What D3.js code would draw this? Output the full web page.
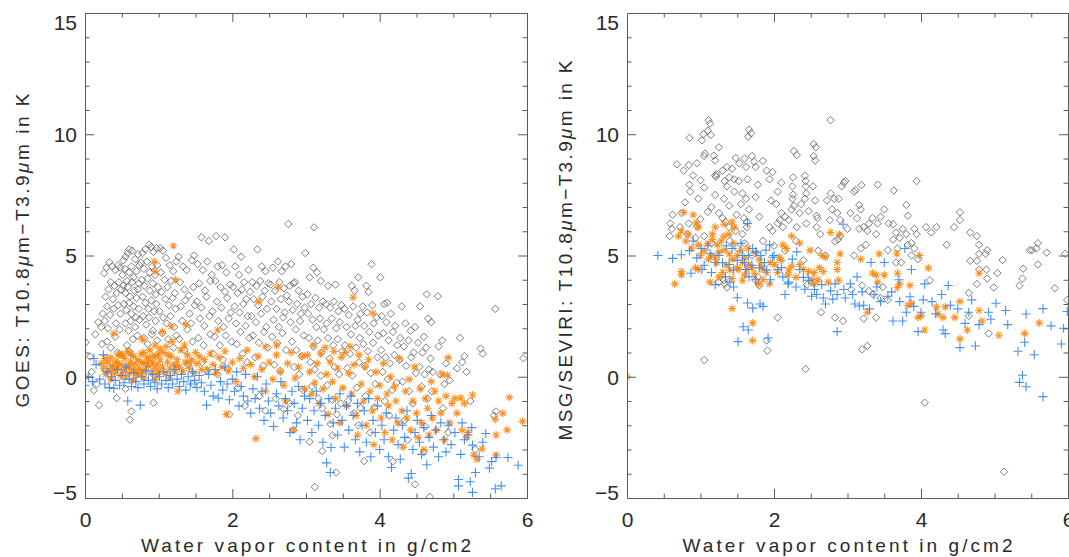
<!DOCTYPE html>
<html>
<head>
<meta charset="utf-8">
<script src="https://d3js.org/d3.v7.min.js"></script>
<style>
  body { margin: 0; background: #fff; }
  svg { display: block; font-family: "Liberation Sans", "DejaVu Sans", sans-serif; }
</style>
</head>
<body>
<script>
"use strict";

// axis ticks and titles
var xTicks = [0, 2, 4, 6];
var yTicks = [-5, 0, 5, 10, 15];
var xMinor = [0.5, 1, 1.5, 2.5, 3, 3.5, 4.5, 5, 5.5];
var yMinor = [-4, -3, -2, -1, 1, 2, 3, 4, 6, 7, 8, 9, 11, 12, 13, 14];
var xTitle = "Water vapor content in g/cm2";
var yTitleLeft = ["GOES: T10.8", "μ", "m−T3.9", "μ", "m in K"];
var yTitleRight = ["MSG/SEVIRI: T10.8", "μ", "m−T3.9", "μ", "m in K"];

// GOES panel: [water vapour, dT]
var goesDiamonds = [
 [0.01,1.42],[0.07,0.83],[0.12,-0.56],[0.19,-1.17],[0.14,1.75],[0.18,2.25],[0.22,2.05],[0.09,0.2],[0.23,1.35],[0.16,-0.3],[0.24,2.6],
 [0.26,4.27],[0.29,4.5],[0.33,4.72],[0.37,4.55],[0.41,4.4],[0.45,4.6],[0.48,4.5],[0.28,3.3],[0.3,2.9],[0.32,3.6],[0.35,3.9],[0.38,3.2],[0.4,3.75],[0.43,3.45],[0.46,3.9],[0.49,3.6],[0.27,2.3],[0.31,2.0],[0.34,2.55],[0.39,2.8],[0.42,2.2],[0.45,2.95],[0.48,2.6],[0.3,1.45],[0.35,1.2],[0.41,1.65],[0.44,1.0],[0.47,1.95],[0.43,-0.88],[0.36,0.55],[0.28,0.3],
 [0.52,4.8],[0.55,4.95],[0.58,5.1],[0.6,5.25],[0.64,5.2],[0.68,4.85],[0.72,5.05],[0.74,4.6],[0.51,4.2],[0.54,4.45],[0.57,3.95],[0.6,4.3],[0.63,4.55],[0.66,4.1],[0.7,4.35],[0.73,3.85],[0.52,3.75],[0.55,3.45],[0.58,3.7],[0.61,3.3],[0.64,3.9],[0.67,3.55],[0.7,3.25],[0.72,3.6],[0.53,3.0],[0.56,2.75],[0.6,3.05],[0.63,2.6],[0.66,2.9],[0.69,2.45],[0.73,2.8],[0.55,2.2],[0.59,1.9],[0.62,2.3],[0.65,1.55],[0.68,2.05],[0.71,1.7],[0.74,2.35],[0.57,1.3],[0.6,1.05],[0.66,0.7],[0.55,-0.5],[0.61,-1.77],[0.63,-1.43],[0.58,0.25],
 [0.78,5.1],[0.82,5.25],[0.87,5.45],[0.9,5.35],[0.93,5.15],[0.97,5.3],[0.76,4.7],[0.8,4.45],[0.84,4.75],[0.88,4.3],[0.91,4.55],[0.95,4.2],[0.98,4.6],[0.77,4.0],[0.81,3.75],[0.85,4.05],[0.88,3.55],[0.92,3.85],[0.96,3.4],[0.99,3.7],[0.78,3.3],[0.82,3.05],[0.86,2.8],[0.9,3.15],[0.94,2.7],[0.97,3.0],[0.79,2.5],[0.83,2.15],[0.87,2.45],[0.92,1.9],[0.96,2.3],[0.8,1.6],[0.85,1.35],[0.91,1.75],[0.98,1.5],[0.93,-1.07],[0.88,0.55],
 [1.02,5.3],[1.06,5.2],[1.1,4.9],[1.15,4.6],[1.2,4.35],[1.24,4.75],[1.03,4.3],[1.08,4.0],[1.12,3.7],[1.17,3.95],[1.22,3.45],[1.04,3.5],[1.09,3.2],[1.14,2.95],[1.19,3.25],[1.23,2.8],[1.01,2.7],[1.06,2.45],[1.11,2.2],[1.16,2.5],[1.21,2.05],[1.05,1.8],[1.13,1.55],[1.2,1.2],[1.24,1.7],
 [1.27,4.95],[1.33,4.55],[1.38,4.4],[1.45,4.8],[1.48,5.0],[1.29,3.9],[1.35,3.6],[1.41,3.35],[1.47,3.7],[1.3,2.9],[1.36,3.15],[1.42,2.6],[1.49,2.95],[1.32,2.3],[1.39,1.95],[1.44,2.2],[1.28,1.55],[1.35,1.1],[1.46,1.45],[1.4,0.5],[1.47,-0.3],
 [1.58,5.75],[1.68,5.6],[1.53,4.65],[1.6,4.4],[1.66,4.75],[1.72,4.2],[1.55,3.85],[1.63,3.55],[1.7,3.95],[1.52,3.1],[1.58,2.85],[1.65,3.3],[1.73,2.7],[1.56,2.4],[1.62,2.1],[1.69,2.5],[1.54,1.6],[1.61,1.3],[1.7,1.75],[1.74,0.95],[1.59,0.6],[1.66,0.25],
 [1.78,5.8],[1.9,5.75],[1.8,4.55],[1.86,4.6],[1.92,4.3],[1.77,3.95],[1.84,3.7],[1.9,3.5],[1.97,3.8],[1.79,3.1],[1.85,2.85],[1.93,3.25],[1.98,2.65],[1.81,2.3],[1.88,2.05],[1.95,2.4],[1.76,1.65],[1.83,1.3],[1.91,1.7],[1.99,1.45],[1.87,0.7],[1.94,0.35],[1.96,-1.55],[1.8,0.1],
 [2.02,5.25],[2.12,4.95],[2.04,4.55],[2.09,4.2],[2.16,3.9],[2.22,4.4],[2.01,3.7],[2.07,3.45],[2.13,3.6],[2.19,3.2],[2.24,3.5],[2.03,2.9],[2.1,2.65],[2.15,3.0],[2.21,2.5],[2.05,2.2],[2.11,1.85],[2.18,2.1],[2.23,1.6],[2.06,1.35],[2.14,0.95],[2.2,0.6],[2.08,-0.45],[2.17,-1.2],
 [2.34,5.25],[2.4,4.55],[2.45,4.35],[2.27,3.9],[2.33,3.75],[2.38,3.95],[2.44,3.55],[2.49,3.85],[2.29,3.2],[2.35,2.95],[2.41,3.3],[2.47,2.8],[2.26,2.5],[2.32,2.25],[2.39,2.6],[2.46,2.05],[2.28,1.7],[2.36,1.4],[2.43,1.85],[2.48,1.2],[2.31,0.8],[2.42,0.45],[2.37,-0.8],[2.45,-1.4],
 [2.55,4.5],[2.62,4.75],[2.67,4.35],[2.72,4.55],[2.52,3.8],[2.58,3.55],[2.64,3.9],[2.7,3.65],[2.74,3.35],[2.53,3.1],[2.6,2.8],[2.66,3.2],[2.71,2.65],[2.56,2.35],[2.63,2.05],[2.69,2.45],[2.54,1.65],[2.61,1.4],[2.68,1.8],[2.73,1.1],[2.57,0.5],[2.65,0.25],[2.59,-0.9],[2.7,-1.35],
 [2.76,6.3],[2.99,5.1],[2.8,4.65],[2.85,3.9],[2.78,3.75],[2.83,3.85],[2.9,3.55],[2.95,3.3],[2.77,3.1],[2.82,2.75],[2.88,3.0],[2.93,2.6],[2.98,2.85],[2.79,2.25],[2.86,1.95],[2.92,2.3],[2.97,1.7],[2.81,1.45],[2.87,1.1],[2.94,0.85],[2.84,0.4],[2.91,0.1],[2.96,-0.55],[2.83,-2.2],[2.78,-1.1],[2.89,-1.6],
 [3.11,6.16],[3.05,4.1],[3.1,4.5],[3.15,4.3],[3.2,3.95],[3.02,3.4],[3.07,3.0],[3.13,3.25],[3.18,2.85],[3.23,3.1],[3.03,2.6],[3.09,2.35],[3.14,2.05],[3.19,2.4],[3.24,1.95],[3.04,1.6],[3.1,1.25],[3.16,1.5],[3.21,1.0],[3.06,0.6],[3.12,0.3],[3.2,0.05],[3.08,-0.4],[3.17,-0.9],[3.22,-1.3],[3.05,-2.68],[3.12,-4.54],[3.22,-3.07],
 [3.3,3.75],[3.4,3.8],[3.27,3.0],[3.33,2.85],[3.38,3.1],[3.44,2.7],[3.48,2.95],[3.28,2.2],[3.35,2.4],[3.41,2.0],[3.46,2.25],[3.3,1.6],[3.37,1.3],[3.43,1.55],[3.49,1.05],[3.32,0.75],[3.39,0.4],[3.45,0.1],[3.29,-0.35],[3.36,-0.95],[3.42,-1.55],[3.47,-1.1],[3.36,-2.42],[3.41,-3.95],[3.33,-1.95],
 [3.71,4.1],[3.62,3.75],[3.66,3.55],[3.52,2.8],[3.58,2.55],[3.64,2.9],[3.7,2.35],[3.74,2.6],[3.55,2.05],[3.61,1.75],[3.67,2.1],[3.73,1.6],[3.53,1.3],[3.6,0.95],[3.68,1.2],[3.72,0.6],[3.56,0.35],[3.63,0.05],[3.69,-0.45],[3.57,-1.0],[3.65,-1.5],[3.71,-2.0],[3.74,-1.3],
 [3.89,4.64],[3.82,3.75],[3.85,3.5],[3.77,2.9],[3.83,2.65],[3.9,2.95],[3.96,2.45],[3.79,2.1],[3.86,1.85],[3.92,2.2],[3.98,1.7],[3.78,1.35],[3.84,1.05],[3.91,1.4],[3.97,0.8],[3.8,0.45],[3.88,0.15],[3.94,-0.3],[3.81,-0.8],[3.93,-1.25],[3.79,-3.48],[3.87,-2.3],
 [4.01,4.1],[4.06,3.0],[4.1,3.05],[4.03,2.5],[4.09,2.25],[4.15,2.6],[4.21,2.1],[4.05,1.8],[4.12,1.5],[4.18,1.85],[4.24,1.3],[4.02,1.1],[4.08,0.8],[4.14,0.55],[4.2,0.9],[4.04,0.2],[4.11,-0.1],[4.17,-0.55],[4.23,-0.25],[4.07,-1.0],[4.18,-3.5],[4.13,-1.6],
 [4.3,2.9],[4.35,2.2],[4.42,1.9],[4.48,2.05],[4.28,1.6],[4.33,1.25],[4.39,1.5],[4.46,1.0],[4.27,0.7],[4.36,0.45],[4.43,0.8],[4.49,0.15],[4.31,-0.2],[4.4,-0.6],[4.45,-1.1],[4.34,-1.8],[4.48,-4.44],[4.38,-2.6],
 [4.64,3.4],[4.55,2.9],[4.6,1.65],[4.66,2.4],[4.7,2.25],[4.52,1.4],[4.58,1.0],[4.63,1.2],[4.69,0.75],[4.54,0.4],[4.61,0.1],[4.67,0.3],[4.72,0.2],[4.57,-0.4],[4.65,-0.9],[4.71,-0.6],[4.68,-4.95],[4.6,-3.1],[4.62,-2.05],
 [4.79,3.32],[4.85,1.5],[4.8,1.25],[4.9,0.55],[4.82,0.1],[4.88,-0.3],[4.95,-0.15],[4.86,-1.3],[4.93,-2.3],
 [5.09,1.6],[5.37,1.16],[5.4,0.95],[5.12,0.6],[5.15,0.85],[5.05,0.35],[5.18,0.2],[5.23,-1.0],[5.58,-1.43],[5.57,2.8],[5.95,0.76],[5.3,-3.0],[5.55,-1.6]
];
var goesStars = [
 [0.0,0.0],[0.22,0.55],[0.25,0.35],[0.28,0.1],[0.3,0.6],[0.33,0.25],[0.35,0.8],[0.37,0.45],[0.4,0.15],[0.42,0.65],[0.44,0.35],[0.46,0.9],[0.48,0.05],[0.5,0.5],[0.52,0.25],[0.54,0.75],[0.56,0.4],[0.58,1.05],[0.6,0.15],[0.62,0.6],[0.64,0.3],[0.66,0.85],[0.68,0.5],[0.7,0.05],[0.72,0.7],[0.74,0.35],[0.76,0.95],[0.78,0.2],[0.8,0.55],[0.82,0.3],[0.84,0.8],[0.86,0.45],[0.88,1.1],[0.9,0.15],[0.92,0.6],[0.94,0.35],[0.96,0.85],[0.98,0.5],[1.0,0.25],[1.02,0.7],[1.05,0.4],[1.07,1.0],[1.1,0.15],[1.12,0.6],[1.15,0.35],[1.17,0.85],[1.2,0.5],[1.22,0.2],[1.25,0.7],[1.28,0.4],[1.3,1.1],[1.33,0.25],[1.36,0.6],[1.39,0.9],[1.42,0.35],[1.45,0.7],[1.48,0.15],[1.52,0.55],[1.55,0.85],[1.58,0.3],[0.55,0.0],[0.65,-0.15],[0.8,-0.05],[0.95,-0.1],[1.15,-0.05],[1.26,-0.6],[0.35,-0.1],[0.45,0.55],[0.62,0.95],[0.72,0.15],[0.86,0.65],[1.0,0.95],[1.35,1.3],[1.18,1.45],[1.1,1.25],[0.95,1.3],[0.8,1.0],
 [0.27,0.75],[0.39,0.35],[0.51,0.9],[0.59,0.45],[0.69,0.25],[0.77,0.6],[0.91,0.85],[0.99,0.1],[1.13,0.9],[1.24,0.45],[1.4,0.6],[1.5,1.0],
 [1.2,5.4],[0.94,4.75],[0.95,4.34],[1.23,4.0],[0.39,1.78],[1.05,1.86],[1.17,2.08],[1.37,2.15],[1.8,1.93],[2.36,3.1],[2.62,3.7],[3.64,3.27],[3.91,2.62],[0.47,0.95],[0.78,1.55],[1.02,1.15],
 [1.62,0.7],[1.66,0.3],[1.7,0.95],[1.74,0.5],[1.78,0.15],[1.82,0.8],[1.86,0.4],[1.9,1.05],[1.95,0.25],[2.0,0.6],[2.05,-0.2],[2.1,0.75],[2.15,0.35],[2.2,1.1],[2.25,0.5],[2.3,0.0],[2.35,0.85],[2.4,0.3],[2.45,1.25],[2.5,0.6],[2.55,-0.1],[2.6,0.9],[2.65,0.2],[2.7,-0.35],[2.75,0.55],[2.8,1.0],[2.85,-0.05],[2.9,0.4],[2.95,0.85],[2.98,-0.5],[1.92,-1.55],[2.32,-2.55],[2.83,-2.19],[2.45,-0.6],[2.72,-1.0],[2.6,1.3],
 [3.02,0.9],[3.05,0.2],[3.08,-0.7],[3.1,1.3],[3.12,-0.25],[3.15,0.55],[3.18,-1.1],[3.2,0.95],[3.23,-0.5],[3.26,1.2],[3.28,0.1],[3.3,-1.55],[3.33,0.6],[3.36,-0.2],[3.38,1.05],[3.4,-0.9],[3.43,0.35],[3.46,-1.9],[3.48,0.8],[3.5,-0.45],[3.53,1.0],[3.55,-1.2],[3.58,0.15],[3.6,1.25],[3.62,-0.7],[3.65,0.5],[3.68,-1.6],[3.7,-2.4],[3.72,0.9],[3.75,-0.3],[3.78,-1.0],[3.8,0.4],[3.82,-2.0],[3.85,0.7],[3.87,-0.6],[3.9,-1.4],[3.92,-2.8],[3.95,0.2],[3.97,-0.9],[4.0,-0.35],[4.02,-1.7],[4.05,0.55],[4.07,-2.3],[4.1,-0.7],[4.12,-1.2],[4.15,0.0],[4.17,-2.6],[4.2,-0.4],[4.22,-1.0],[4.25,-1.9],[4.27,0.75],[4.3,-1.4],[4.32,-2.9],[4.35,-0.6],[4.37,-1.7],[4.4,-0.1],[4.42,-2.2],[4.45,-1.0],[4.47,0.4],[4.5,-1.5],[4.52,-2.5],[4.55,-0.5],[4.57,-1.9],[4.6,-3.0],[4.62,-0.9],[4.65,-1.3],[4.67,-2.4],[4.7,-0.2],[4.72,-1.7],[4.75,-0.6],[4.77,-2.2],[4.8,-1.0],[4.83,-1.5],[4.85,0.1],[4.88,-2.6],[4.9,-0.8],[4.92,0.06],[4.93,0.79],[4.95,-1.9],[4.98,-1.1],
 [5.02,-0.9],[5.05,-1.5],[5.1,-0.88],[5.12,-2.2],[5.15,-1.1],[5.18,-2.5],[5.26,-0.75],[5.28,-3.23],[5.32,-3.4],[5.39,-2.97],[5.57,-1.75],[5.58,-2.4],[5.58,-3.23],[5.67,-1.5],[5.73,-2.19],[5.76,-0.85],[5.94,-1.84],[5.2,-2.3]
];
var goesPlus = [
 [0.0,-0.35],[0.05,0.0],[0.1,-0.2],[0.12,0.75],[0.15,0.5],[0.2,-0.1],[0.25,0.9],[0.27,-0.3],[0.3,0.2],[0.33,-0.45],[0.36,0.0],[0.39,-0.48],[0.41,-0.15],[0.44,0.3],[0.47,-0.35],[0.5,0.05],[0.53,-0.25],[0.56,0.4],[0.58,-1.0],[0.6,-0.1],[0.63,-0.4],[0.66,0.15],[0.69,-0.2],[0.72,-0.45],[0.75,-1.17],[0.77,0.0],[0.8,-0.3],[0.83,0.25],[0.86,-0.15],[0.89,-0.4],[0.92,0.1],[0.95,-0.25],[0.98,-0.5],[1.01,0.0],[1.04,-0.3],[1.07,0.2],[1.1,-0.15],[1.13,-0.45],[1.16,0.05],[1.19,-0.3],[1.22,0.3],[1.25,-0.1],[1.28,-0.4],[1.31,0.1],[1.34,-0.2],[1.37,-0.55],[1.4,0.0],[1.43,-0.3],[1.46,0.2],[1.49,-0.15],[1.52,-0.45],[1.55,0.05],[1.58,-0.25],
 [1.62,-0.6],[1.65,-1.17],[1.68,0.1],[1.71,-0.35],[1.74,-0.8],[1.77,0.3],[1.81,-0.88],[1.84,-0.2],[1.87,-0.55],[1.9,0.4],[1.93,-0.3],[1.96,-0.95],[2.0,-0.1],[2.03,-0.6],[2.06,0.2],[2.09,-1.2],[2.12,-0.4],[2.15,-0.8],[2.18,0.1],[2.21,-1.0],[2.25,-1.5],[2.28,-0.5],[2.31,-0.9],[2.34,0.0],[2.37,-1.3],[2.4,-0.6],[2.43,-1.8],[2.46,-0.3],[2.49,-1.0],[2.52,-1.5],[2.56,-2.05],[2.6,-0.7],[2.63,-1.2],[2.66,-0.2],[2.69,-1.7],[2.72,-0.9],[2.75,-1.4],[2.78,-2.3],[2.81,-0.6],[2.84,-1.1],[2.87,-1.9],[2.9,-0.4],[2.92,-2.6],[2.95,-1.3],[2.98,-0.8],
 [3.02,-1.8],[3.05,-0.9],[3.08,-2.3],[3.11,-1.4],[3.14,-0.6],[3.17,-2.0],[3.2,-1.1],[3.23,-2.7],[3.26,-1.6],[3.28,-3.55],[3.31,-0.9],[3.33,-3.95],[3.34,-2.92],[3.37,-1.9],[3.4,-1.3],[3.43,-2.4],[3.46,-0.7],[3.49,-1.8],[3.52,-2.9],[3.55,-1.2],[3.58,-2.2],[3.61,-0.8],[3.64,-1.6],[3.67,-2.6],[3.7,-1.1],[3.73,-3.1],[3.76,-2.0],[3.79,-1.4],[3.82,-2.7],[3.85,-0.9],[3.88,-3.3],[3.91,-1.8],[3.94,-2.3],[3.97,-1.2],[4.0,-3.0],[4.03,-2.0],[4.06,-2.6],[4.09,-1.5],[4.12,-3.3],[4.16,-3.74],[4.19,-2.2],[4.22,-1.7],[4.25,-2.8],[4.28,-3.4],[4.31,-2.0],[4.34,-2.5],[4.37,-1.4],[4.39,-4.18],[4.43,-3.99],[4.45,-3.0],[4.48,-2.3],[4.51,-1.8],[4.54,-2.7],[4.57,-3.2],[4.6,-2.1],[4.64,-3.63],[4.67,-2.5],[4.7,-1.6],[4.73,-2.9],[4.76,-2.2],[4.8,-3.3],[4.83,-1.9],[4.87,-2.6],[4.9,-3.1],[4.93,-2.0],[4.97,-2.8],
 [5.02,-2.3],[5.07,-4.24],[5.07,-4.5],[5.1,-3.2],[5.15,-2.6],[5.23,-4.33],[5.25,-2.1],[5.26,-2.82],[5.26,-4.77],[5.3,-3.95],[5.44,-2.34],[5.49,-3.77],[5.57,-4.62],[5.58,-3.33],[5.65,-4.5],[5.74,-3.33],[5.88,-3.65],[5.35,-3.3],[5.4,-2.7],[5.52,-3.5],[5.12,-1.9],[5.2,-2.4]
];

// MSG/SEVIRI panel
var msgDiamonds = [
 [1.11,10.58],[1.13,10.44],[1.1,10.15],[1.04,10.0],[1.02,9.75],[1.14,9.97],[0.85,9.85],[1.06,9.2],[1.05,9.1],[1.18,9.12],[1.2,8.92],[1.25,9.46],[0.95,8.8],[0.68,8.76],[0.84,8.73],[0.77,8.5],[0.9,8.3],[0.85,7.92],[0.86,7.63],[0.97,7.34],[0.79,7.19],[0.74,6.75],[0.62,6.68],[0.59,6.32],[0.61,6.1],[0.58,5.8],[0.72,6.17],[0.84,6.32],[0.82,5.88],[0.93,5.73],[1.2,8.3],[1.21,8.25],[1.22,8.35],
 [1.66,10.19],[1.69,10.04],[1.65,9.9],[1.7,9.1],[1.73,8.87],[1.62,8.65],[1.48,9.02],[1.53,8.8],[1.43,8.58],[1.36,8.65],[1.3,8.5],[1.39,8.22],[1.46,8.14],[1.52,8.07],[1.33,8.07],[1.36,7.85],[1.46,7.63],[1.57,7.56],[1.62,7.34],[1.55,7.12],[1.39,7.05],[1.32,7.34],[1.49,6.68],[1.66,6.9],[1.75,7.41],[1.78,7.92],[1.64,8.14],[1.75,8.65],[1.59,6.54],[1.63,6.39],[1.63,6.17],[1.8,6.6],[1.39,6.17],[1.34,6.39],[1.3,6.54],[1.25,6.75],[1.48,6.02],[1.57,5.88],[1.33,3.83],[1.32,3.98],[1.36,3.68],[1.25,3.9],[1.75,3.98],[1.8,3.76],[1.78,4.12],
 [1.9,8.5],[1.98,8.44],[1.94,8.14],[1.96,7.27],[2.03,7.12],[2.05,7.63],[2.1,6.75],[2.08,6.46],[2.05,6.32],[2.12,6.17],[1.98,6.02],[1.94,6.17],[2.15,6.6],[2.24,6.9],[2.27,9.31],[2.31,9.14],[2.26,8.22],[2.25,7.85],[2.26,7.51],[2.27,7.05],[2.25,7.34],[2.2,6.46],[2.31,6.17],[2.35,6.75],[2.37,7.12],[2.05,2.44],[1.9,1.49],[1.91,1.08],[1.05,0.69],
 [2.54,9.6],[2.57,9.46],[2.54,9.1],[2.56,8.92],[2.77,10.58],[2.42,8.29],[2.43,8.07],[2.43,7.85],[2.44,7.56],[2.42,7.34],[2.53,7.85],[2.56,7.27],[2.58,6.64],[2.59,6.54],[2.58,6.17],[2.44,6.32],[2.47,6.83],[2.63,5.88],[2.72,7.27],[2.77,7.56],[2.79,6.9],[2.76,6.46],[2.82,7.34],[2.86,6.75],[2.83,5.58],[2.87,5.66],[2.9,6.46],[2.95,8.0],[2.92,7.85],[2.97,8.07],[2.88,7.34],[2.64,2.66],[2.83,2.44],[2.94,2.3],[2.43,0.32],
 [3.09,7.63],[3.11,7.7],[3.19,7.9],[3.16,7.08],[3.18,6.9],[3.04,6.75],[3.13,6.54],[3.22,6.17],[3.16,6.1],[3.29,6.32],[3.34,6.54],[3.41,7.92],[3.27,6.02],[3.41,6.32],[3.45,6.6],[3.5,6.9],[3.39,5.88],[3.25,5.44],[3.18,5.29],[3.09,5.0],[3.2,3.76],[3.22,2.4],[3.2,1.13],[3.27,1.27],[3.39,2.44],[3.45,3.25],[3.55,3.17],[3.29,3.54],[3.05,3.6],[3.35,3.4],[3.48,3.7],
 [3.63,7.68],[3.8,7.08],[3.82,6.64],[3.56,6.32],[3.62,6.29],[3.66,5.95],[3.71,5.73],[3.75,6.1],[3.8,5.88],[3.62,5.66],[3.55,5.22],[3.68,5.29],[3.66,4.71],[3.73,4.71],[3.82,5.44],[3.87,5.51],[3.94,8.07],[3.91,6.1],[3.94,5.88],[3.91,5.29],[3.87,5.0],[3.96,4.85],
 [4.05,-1.07],[4.07,6.17],[4.14,5.95],[4.21,6.17],[4.12,3.98],[4.35,5.44],[4.45,6.17],[4.53,6.78],[4.53,6.46],[4.67,5.95],[4.76,5.8],[4.79,5.44],[4.79,5.07],[4.76,4.78],[4.79,4.42],[4.67,4.78],[4.65,3.46],[4.76,3.83],[4.9,5.22],[4.88,5.07],[4.89,4.42],[4.9,4.05],[4.99,3.68],[4.92,1.78],[5.04,4.27],[5.11,4.81],[5.13,-3.92],[4.65,2.51],
 [5.34,3.76],[5.38,4.05],[5.39,4.46],[5.48,5.22],[5.51,5.22],[5.59,5.51],[5.59,4.63],[5.57,5.29],[5.71,5.12],[5.82,3.65],[5.96,5.07],[5.99,3.17],
 [1.4,5.6],[1.5,5.3],[1.6,5.5],[1.7,5.0],[1.85,5.6],[2.0,5.4],[2.15,5.2],[2.3,5.6],[2.4,4.8],[2.5,4.2],[2.55,3.9],[2.45,3.8],[1.15,5.5],[1.05,5.8],[0.95,6.2],[1.0,6.5],[1.1,6.8],[1.15,7.0],[1.2,7.5],[1.05,7.8],[1.0,8.1],[2.6,5.2],[2.7,5.0],[2.9,5.8],[3.0,6.1],[2.1,8.0],[1.85,8.9],[1.6,9.0]
];
var msgStars = [
 [0,0],[0.65,3.83],[0.74,4.2],[0.74,4.34],[0.77,6.78],[0.9,6.68],[0.94,6.35],[0.97,6.17],[0.7,5.8],[0.74,6.02],[0.83,5.88],[0.97,5.44],[0.93,4.49],[0.97,4.42],[1.13,3.9],[1.16,5.66],[1.16,5.88],[1.2,6.17],[1.32,6.29],[1.43,6.39],[1.46,6.17],[1.39,5.88],[1.32,5.8],[1.23,5.44],[1.25,5.15],[1.2,4.93],[1.25,4.12],[1.11,4.85],[1.32,5.22],[1.39,5.07],[1.43,4.85],[1.5,5.0],[1.57,4.71],[1.52,4.42],[1.43,4.05],[1.43,2.81],[1.57,3.98],[1.63,4.42],[1.66,4.63],[1.73,4.27],[1.79,3.83],[1.71,2.22],[1.71,1.49],[1.8,4.85],[1.85,4.42],[1.94,3.83],[2.01,4.63],[2.07,4.93],[2.12,5.44],[2.17,5.29],[2.24,5.8],[2.19,4.2],[2.24,4.56],[2.35,4.63],[2.35,5.51],[2.4,4.42],[2.47,4.34],[2.49,5.22],[2.51,3.98],[2.54,3.83],[2.65,5.0],[2.7,4.93],[2.67,4.34],[2.74,3.9],[2.77,5.95],[2.86,4.71],[2.86,4.42],[2.88,3.98],[2.89,5.88],[2.9,5.07],
 [1.05,5.2],[1.1,5.5],[1.15,5.0],[1.22,4.7],[1.28,5.6],[1.35,4.6],[1.45,5.5],[1.5,4.5],[1.55,5.2],[1.6,4.9],[1.65,5.3],[1.7,4.5],[1.75,5.1],[1.82,4.6],[1.9,4.3],[1.95,4.7],[2.05,4.3],[2.1,4.8],[2.2,4.4],[2.3,4.1],[1.0,5.0],[0.88,5.3],[0.8,5.6],[1.3,4.3],[1.4,4.4],[1.6,4.2],[1.85,4.0],[2.6,4.0],[2.55,4.3],[2.62,4.5],
 [3.18,4.85],[3.27,2.66],[3.34,4.27],[3.39,4.2],[3.41,3.9],[3.5,4.2],[3.43,5.07],[3.67,5.07],[3.68,4.27],[3.68,3.68],[3.71,3.83],[3.85,3.76],[3.82,2.95],[3.87,3.03],[3.96,2.44],[4.0,2.51],[4.05,1.93],[3.98,5.0],[4.1,4.49],[4.21,2.88],[4.23,2.59],[4.3,2.44],[4.33,2.88],[4.46,2.44],[4.53,3.1],[4.53,1.56],[4.63,1.93],[4.79,4.27],[4.79,2.73],[4.83,2.3],[5.06,1.71],[5.41,1.78],[5.61,2.22]
];
var msgPlus = [
 [0.42,5.0],[0.62,4.88],[0.74,5.03],[0.87,4.27],[1.01,5.29],[1.02,4.42],[1.13,5.07],[1.2,4.71],[1.34,4.12],[1.39,4.63],[1.43,5.29],[1.64,6.32],[1.71,5.29],[1.76,5.15],[1.57,5.0],[1.62,4.42],[1.66,4.12],[1.8,4.49],[1.87,4.71],[1.89,5.22],[1.94,5.44],[1.98,4.93],[2.05,4.42],[2.12,4.12],[2.15,3.39],[2.19,3.83],[2.25,4.85],[2.31,5.15],[2.35,4.42],[2.42,3.61],[2.47,3.98],[2.51,3.32],[2.58,3.39],[2.67,3.25],[2.77,3.54],[2.83,3.83],[2.86,3.39],[2.86,1.86],[2.94,6.29],[2.97,3.25],
 [3.04,3.83],[3.07,3.39],[3.13,4.12],[3.16,2.92],[3.22,2.95],[3.32,4.71],[3.36,3.39],[3.45,3.1],[3.5,4.71],[3.55,3.32],[3.62,2.3],[3.71,3.1],[3.75,2.3],[3.78,5.29],[3.8,2.66],[3.87,4.42],[3.96,1.86],[4.0,2.66],[4.03,3.17],[4.05,3.83],[4.28,3.39],[4.3,1.93],[4.33,1.78],[4.37,3.76],[4.4,2.95],[4.53,1.2],[4.65,2.66],[4.69,3.17],[4.74,1.27],[4.79,2.15],[4.92,2.66],[4.95,2.37],[5.02,3.03],[5.15,2.73],[5.18,2.15],[5.32,1.05],[5.34,-0.23],[5.38,0.06],[5.41,1.42],[5.43,2.59],[5.43,-0.41],[5.54,0.91],[5.66,2.81],[5.66,-0.82],[5.77,2.1],[5.91,1.35],[5.94,2.0],[5.99,2.69],
 [0.85,5.2],[0.95,4.9],[1.05,4.6],[1.1,5.4],[1.15,4.3],[1.25,5.0],[1.3,4.7],[1.35,5.4],[1.45,4.4],[1.5,4.8],[1.55,5.5],[1.6,4.7],[1.65,5.0],[1.7,4.6],[1.75,4.0],[1.82,5.0],[1.9,4.4],[1.95,4.0],[2.0,5.0],[2.1,4.5],[2.2,3.9],[2.3,3.7],[2.4,4.1],[2.55,3.6],[2.65,3.8],[2.7,3.0],[2.8,3.2],[2.95,3.6],[3.1,3.0],[3.2,3.5],[3.3,2.8],[3.4,3.7],[3.6,3.5],[3.7,4.0],[3.85,3.3],[3.9,2.9],[4.15,3.1],[4.2,2.6],[4.5,2.8],[4.6,2.2],
 [1.51,1.45],[1.65,1.93],[1.58,2.06],[1.92,1.6],[1.5,3.26],[1.64,3.04],[1.71,2.83],[1.81,3.0],[1.45,3.7],[1.85,2.9],[0.9,5.6],[1.2,3.8],[1.4,3.9]
];

var width = 1069, height = 557;
var plotTop = 13, plotBottom = 498;

var svg = d3.select("body").append("svg")
    .attr("width", width)
    .attr("height", height);

// marker shapes
function diamondPath(r) { return "M0," + (-r) + "L" + r + ",0L0," + r + "L" + (-r) + ",0Z"; }
function starPath(r) {
  var a = r * 0.707;
  return "M" + (-r) + ",0H" + r + "M0," + (-r) + "V" + r +
         "M" + (-a) + "," + (-a) + "L" + a + "," + a + "M" + (-a) + "," + a + "L" + a + "," + (-a);
}
function plusPath(r) { return "M" + (-r) + ",0H" + r + "M0," + (-r) + "V" + r; }

function drawPanel(id, left, right, titleX, titleLen, titleParts, series) {
  var x = d3.scaleLinear().domain([0, 6]).range([left, right]);
  var y = d3.scaleLinear().domain([-5, 15]).range([plotBottom, plotTop]);
  var g = svg.append("g");

  g.append("clipPath").attr("id", id)
    .append("rect").attr("x", left).attr("y", plotTop)
    .attr("width", right - left).attr("height", plotBottom - plotTop);

  // points
  var pts = g.append("g").attr("clip-path", "url(#" + id + ")");
  series.forEach(function(s) {
    pts.append("g").selectAll("path")
      .data(s.data)
      .enter().append("path")
      .attr("transform", function(d) { return "translate(" + x(d[0]) + "," + y(d[1]) + ")"; })
      .attr("d", s.shape)
      .attr("fill", "none")
      .attr("stroke", s.color)
      .attr("stroke-width", s.sw)
      .attr("stroke-opacity", s.op);
  });

  var fmt = d3.format("d");

  // bottom axis with labels
  var gb = g.append("g").attr("transform", "translate(0," + plotBottom + ")")
    .call(d3.axisBottom(x).tickValues(xTicks).tickSize(-9).tickSizeOuter(0).tickFormat(fmt));
  gb.selectAll("text").attr("y", 29).attr("dy", null);
  g.append("g").attr("transform", "translate(0," + plotBottom + ")")
    .call(d3.axisBottom(x).tickValues(xMinor).tickSize(-4.5).tickSizeOuter(0).tickFormat(""));
  // top axis
  g.append("g").attr("transform", "translate(0," + plotTop + ")")
    .call(d3.axisTop(x).tickValues(xTicks).tickSize(-9).tickSizeOuter(0).tickFormat(""));
  g.append("g").attr("transform", "translate(0," + plotTop + ")")
    .call(d3.axisTop(x).tickValues(xMinor).tickSize(-4.5).tickSizeOuter(0).tickFormat(""));
  // left axis with labels
  var gl = g.append("g").attr("transform", "translate(" + left + ",0)")
    .call(d3.axisLeft(y).tickValues(yTicks).tickSize(-9).tickSizeOuter(0).tickPadding(8).tickFormat(fmt));
  gl.selectAll("text").attr("dy", function(d) { return d === 15 ? "0.8em" : (d === -5 ? "0.07em" : "0.35em"); });
  g.append("g").attr("transform", "translate(" + left + ",0)")
    .call(d3.axisLeft(y).tickValues(yMinor).tickSize(-4.5).tickSizeOuter(0).tickFormat(""));
  // right axis
  g.append("g").attr("transform", "translate(" + right + ",0)")
    .call(d3.axisRight(y).tickValues(yTicks).tickSize(-9).tickSizeOuter(0).tickFormat(""));
  g.append("g").attr("transform", "translate(" + right + ",0)")
    .call(d3.axisRight(y).tickValues(yMinor).tickSize(-4.5).tickSizeOuter(0).tickFormat(""));

  g.selectAll(".domain, .tick line").attr("stroke", "#5a5a5a").attr("stroke-width", 1);
  g.selectAll(".tick text")
    .attr("font-family", "Liberation Sans, DejaVu Sans, sans-serif")
    .attr("font-size", 21)
    .attr("fill", "#2a2a2a");

  // x title
  g.append("text")
    .attr("x", (left + right) / 2)
    .attr("y", 552)
    .attr("text-anchor", "middle")
    .attr("font-size", 19)
    .attr("fill", "#2a2a2a")
    .attr("textLength", 330)
    .attr("lengthAdjust", "spacing")
    .text(xTitle);

  // y title, reading upwards
  var t = g.append("text")
    .attr("transform", "translate(" + titleX + "," + ((plotTop + plotBottom) / 2 - 5) + ") rotate(-90)")
    .attr("text-anchor", "middle")
    .attr("font-size", 19)
    .attr("fill", "#2a2a2a")
    .attr("textLength", titleLen)
    .attr("lengthAdjust", "spacing");
  titleParts.forEach(function(p, i) {
    t.append("tspan").attr("font-style", i % 2 === 1 ? "italic" : null).text(p);
  });
}

var styles = function(d, s, p) {
  return [
    { data: d, shape: diamondPath(3.7), color: "#555555", sw: 0.9, op: 0.85 },
    { data: s, shape: starPath(4.0), color: "#ff8000", sw: 1.1, op: 0.85 },
    { data: p, shape: plusPath(4.6), color: "#3385f2", sw: 1.1, op: 0.9 }
  ];
};

drawPanel("clipGoes", 85, 527, 29, 314, yTitleLeft, styles(goesDiamonds, goesStars, goesPlus));
drawPanel("clipMsg", 627, 1068, 572, 380, yTitleRight, styles(msgDiamonds, msgStars, msgPlus));
</script>
</body>
</html>
